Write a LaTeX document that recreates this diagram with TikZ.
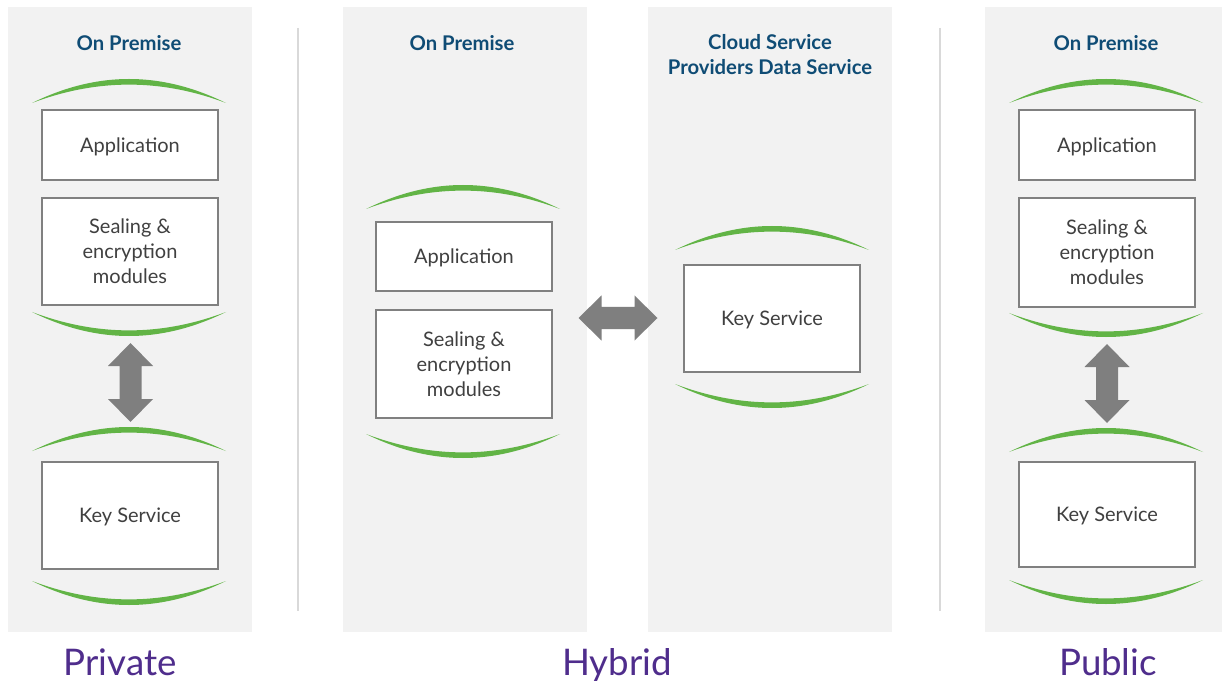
\documentclass[tikz,border=0pt]{standalone}
\usepackage{fontspec}
\setmainfont{Lato}
\definecolor{panelgray}{HTML}{F2F2F2}
\definecolor{sepgray}{HTML}{D9D9D9}
\definecolor{arcgreen}{HTML}{62B446}
\definecolor{boxborder}{HTML}{808080}
\definecolor{boxtext}{HTML}{404040}
\definecolor{titleblue}{HTML}{0F4C75}
\definecolor{labelpurple}{HTML}{4F2D8C}
\definecolor{arrowgray}{HTML}{7F7F7F}
\tikzset{
  panel/.style={fill=panelgray, draw=none},
  sepline/.style={draw=sepgray, line width=1.5pt},
  box/.style={draw=boxborder, fill=white, line width=1.5pt, minimum width=132pt,
    text=boxtext, align=center, font=\fontsize{15}{18.75}\selectfont, inner sep=0pt},
  oneline/.style={text height=10.6pt, text depth=0pt},
  apptitle/.style={text=titleblue, font=\fontsize{15.2}{18.75}\selectfont\bfseries,
    align=center, anchor=base},
  biglabel/.style={text=labelpurple, font=\fontsize{27.5}{30}\selectfont, anchor=base},
  arcup/.pic={\fill[arcgreen] (-97,0) .. controls (-32,-32) and (32,-32) .. (97,0)
      .. controls (32,-24.5) and (-32,-24.5) .. (-97,0) -- cycle;},
  arcdown/.pic={\fill[arcgreen] (-97,0) .. controls (-32,32) and (32,32) .. (97,0)
      .. controls (32,24.5) and (-32,24.5) .. (-97,0) -- cycle;},
  blockarrow/.pic={\fill[arrowgray] (0,-39.5) -- (22.5,-16.5) -- (11,-16.5) -- (11,16.5)
      -- (22.5,16.5) -- (0,39.5) -- (-22.5,16.5) -- (-11,16.5) -- (-11,-16.5)
      -- (-22.5,-16.5) -- cycle;}
}
\begin{document}
\begin{tikzpicture}[x=0.75pt, y=-0.75pt]
\useasboundingbox (0,0) rectangle (1222,681);
\fill[white] (0,0) rectangle (1222,681);
% panels
\fill[panel] (8,7) rectangle (252,632);
\fill[panel] (343,7) rectangle (587,632);
\fill[panel] (648,7) rectangle (892,632);
\fill[panel] (985,7) rectangle (1222,632);
% separators
\draw[sepline] (298,28) -- (298,611);
\draw[sepline] (940,28) -- (940,611);
% titles
\node[apptitle] (t1) at (129,51) {On Premise};
\node[apptitle] (t2) at (462,51) {On Premise};
\node[apptitle] (t3) at (770,74.5) {Cloud Service\\Providers Data Service};
\node[apptitle] (t4) at (1106,51) {On Premise};
% panel 1
\pic at (129,103) {arcup};
\node[box, oneline, minimum height=52.5pt] (app1) at (130,145) {Application};
\node[box, minimum height=80.25pt] (seal1) at (130,251.5) {Sealing \&\\encryption\\modules};
\pic at (129,312) {arcdown};
\pic at (130.5,382.5) {blockarrow};
\pic at (129,451) {arcup};
\node[box, oneline, minimum height=80.25pt] (key1) at (130,515.5) {Key Service};
\pic at (129,581) {arcdown};
% panel 2
\pic at (463,209) {arcup};
\node[box, oneline, minimum height=51.75pt] (app2) at (464,256.5) {Application};
\node[box, minimum height=81pt] (seal2) at (464,364) {Sealing \&\\encryption\\modules};
\pic at (463,434) {arcdown};
% horizontal arrow
\pic[rotate=90] at (618,318) {blockarrow};
% panel 3
\pic at (772,250) {arcup};
\node[box, oneline, minimum height=80.25pt] (key3) at (772,318.5) {Key Service};
\pic at (772,384) {arcdown};
% panel 4
\pic at (1106,103) {arcup};
\node[box, oneline, minimum height=52.5pt] (app4) at (1107,145) {Application};
\node[box, minimum height=81.75pt] (seal4) at (1107,252.5) {Sealing \&\\encryption\\modules};
\pic at (1106,313) {arcdown};
\pic at (1107,383.5) {blockarrow};
\pic at (1106,452) {arcup};
\node[box, oneline, minimum height=78.75pt] (key4) at (1107,514.5) {Key Service};
\pic at (1106,580) {arcdown};
% bottom labels
\node[biglabel] (l1) at (120,675) {Private};
\node[biglabel] (l2) at (617,675) {Hybrid};
\node[biglabel] (l3) at (1108,675) {Public};
\end{tikzpicture}
\end{document}
